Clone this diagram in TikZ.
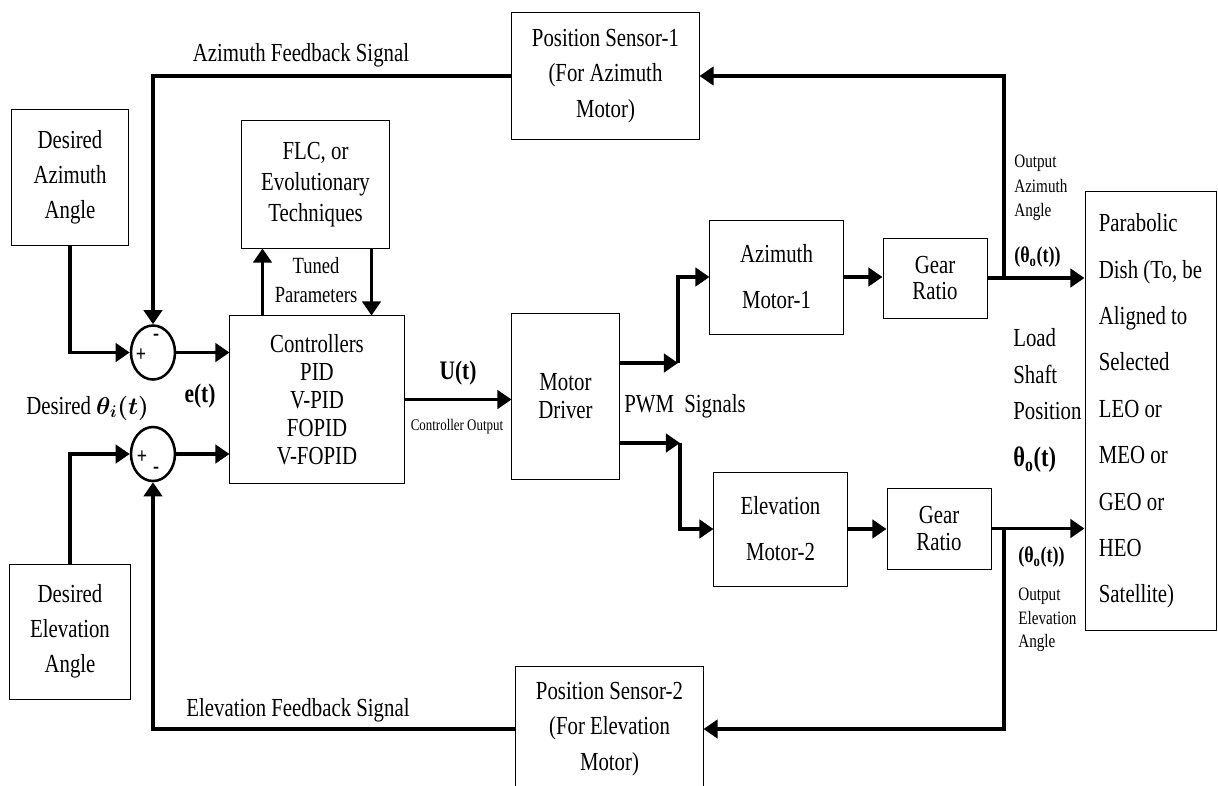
\documentclass[tikz,border=0pt]{standalone}
\usepackage{amsmath}
\usepackage{fontspec}
\setmainfont{Liberation Serif}[FakeStretch=0.8]
\usetikzlibrary{positioning,arrows.meta,shapes.geometric,calc}

\tikzset{
  blk/.style={draw, line width=0.7pt, align=center, inner sep=2pt},
  sumnode/.style={draw, ellipse, line width=1.8pt, minimum width=1.1cm, minimum height=1.35cm, inner sep=0},
  sig/.style={line width=2.6pt, -{Triangle[length=10pt,width=13pt]}},
  wire/.style={line width=2.6pt},
  lbl/.style={inner sep=0, align=center, font=\fontsize{18.5}{25}\selectfont},
  smalllbl/.style={inner sep=0, align=left, font=\fontsize{13.5}{17}\selectfont},
  sgn/.style={inner sep=0, font=\bfseries\fontsize{16}{16}\selectfont},
  thetalbl/.style={inner sep=0, font=\bfseries\fontsize{16}{16}\selectfont},
}

\begin{document}
\begin{tikzpicture}[x=0.025cm, y=-0.025cm]
    \useasboundingbox (0,0) rectangle (1218,785);
    \clip (0,0) rectangle (1218,785);

    % Desired angles
    \node[blk, minimum width=2.9cm, minimum height=3.375cm, font=\fontsize{18.5}{24.8}\selectfont] (daz) at (70,177.5) {Desired\\Azimuth\\Angle};
    \node[blk, minimum width=3.0cm, minimum height=3.375cm, font=\fontsize{18.5}{24.8}\selectfont] (del) at (70,631.5) {Desired\\Elevation\\Angle};

    % Summing points
    \node[sumnode] (s1) at (153,352.5) {};
    \node[sumnode] (s2) at (153,454) {};
    \node[sgn] at ($(s1)+(-12,3)$) {+};
    \node[sgn] at ($(s1)+(3,-15)$) {-};
    \node[sgn] at ($(s2)+(-11,3)$) {+};
    \node[sgn] at ($(s2)+(3,16)$) {-};

    % Controller and tuning
    \node[blk, minimum width=4.35cm, minimum height=4.175cm, font=\fontsize{18.5}{19.8}\selectfont] (ctrl) at (317,399.5) {Controllers\\PID\\V-PID\\FOPID\\V-FOPID};
    \node[blk, minimum width=3.675cm, minimum height=3.175cm, font=\fontsize{18.5}{22}\selectfont] (flc) at (315.5,184.5) {FLC, or\\Evolutionary\\Techniques};
    \node[lbl, font=\fontsize{16.5}{21}\selectfont] (tune) at (316,280) {Tuned\\Parameters};

    % Driver, motors and gears
    \node[blk, minimum width=2.675cm, minimum height=4.125cm, font=\fontsize{18.5}{19.8}\selectfont] (drv) at (565.5,396.5) {Motor\\Driver};
    \node[blk, minimum width=3.325cm, minimum height=2.85cm, font=\fontsize{18.5}{32.6}\selectfont] (azm) at (776.5,277) {Azimuth\\Motor-1};
    \node[blk, minimum width=3.325cm, minimum height=2.85cm, font=\fontsize{18.5}{32.6}\selectfont] (elm) at (780.5,529) {Elevation\\Motor-2};
    \node[blk, minimum width=2.6cm, minimum height=2.0cm, font=\fontsize{18.5}{19}\selectfont] (gr1) at (935,278) {Gear\\Ratio};
    \node[blk, minimum width=2.6cm, minimum height=2.025cm, font=\fontsize{18.5}{19}\selectfont] (gr2) at (939,528.5) {Gear\\Ratio};

    % Sensors and dish
    \node[blk, minimum width=4.675cm, minimum height=3.15cm, font=\fontsize{18.5}{25}\selectfont] (ps1) at (605.5,76) {Position Sensor-1\\(For Azimuth\\Motor)};
    \node[blk, minimum width=4.675cm, minimum height=3.15cm, font=\fontsize{18.5}{25}\selectfont] (ps2) at (609.5,729) {Position Sensor-2\\(For Elevation\\Motor)};
    \node[blk, align=left, minimum width=3.275cm, minimum height=10.95cm, font=\fontsize{18.5}{33}\selectfont] (dish) at (1150.5,411) {Parabolic\\Dish (To, be\\Aligned to\\Selected\\LEO or\\MEO or\\GEO or\\HEO\\Satellite)};

    % Labels
    \node[lbl] (azfb) at (301,55) {Azimuth Feedback Signal};
    \node[lbl] (elfb) at (298,710) {Elevation Feedback Signal};
    \node[lbl, anchor=west] (dth) at (26,408) {Desired $\boldsymbol{\theta_i(t)}$};
    \node[lbl, font=\bfseries\fontsize{19}{19}\selectfont] (et) at (200,396) {e(t)};
    \node[lbl, font=\bfseries\fontsize{19}{19}\selectfont] (ut) at (458,373) {U(t)};
    \node[lbl, font=\fontsize{11.5}{12}\selectfont] (cout) at (457,427) {Controller Output};
    \node[lbl, anchor=west] (pwm) at (624,406) {PWM~ Signals};
    \node[smalllbl, anchor=west, font=\fontsize{13.5}{17.4}\selectfont] (oaz) at (1014,188) {Output\\Azimuth\\Angle};
    \node[thetalbl, anchor=west] (th1) at (1014,257) {(θ\textsubscript{o}(t))};
    \node[lbl, anchor=west, align=left, font=\fontsize{18.5}{26}\selectfont] (lsp) at (1013,374.5) {Load\\Shaft\\Position};
    \node[lbl, anchor=west, font=\bfseries\fontsize{20}{20}\selectfont] (th0) at (1013,460) {θ\textsubscript{o}(t)};
    \node[thetalbl, anchor=west] (th2) at (1018,557) {(θ\textsubscript{o}(t))};
    \node[smalllbl, anchor=west, font=\fontsize{13.5}{16.7}\selectfont] (oel) at (1018,620) {Output\\Elevation\\Angle};

    % Junction points
    \coordinate (tuneup) at ([xshift=0.825cm]ctrl.north west);
    \coordinate (tunedn) at ([xshift=-0.45cm]flc.south east);
    \coordinate (pwm1) at (678,363);
    \coordinate (pwm2) at (680,443);
    \coordinate (j1) at (1004,278);
    \coordinate (j2) at (1004,528.5);

    % Forward path
    \draw[sig] (daz.south) |- (s1.west);
    \draw[sig] (del.north) |- (s2.west);
    \draw[sig] (s1.east) -- (s1.east -| ctrl.west);
    \draw[sig] (s2.east) -- (s2.east -| ctrl.west);
    \draw[sig] (tuneup) -- (tuneup |- flc.south);
    \draw[sig] (tunedn) -- (tunedn |- ctrl.north);
    \draw[sig] (ctrl.east) -- (ctrl.east -| drv.west);
    \draw[sig] (pwm1 -| drv.east) -- (pwm1);
    \draw[sig] (pwm1) |- (azm.west);
    \draw[sig] (pwm2 -| drv.east) -- (pwm2);
    \draw[sig] (pwm2) |- (elm.west);
    \draw[sig] (azm.east) -- (azm.east -| gr1.west);
    \draw[sig] (elm.east) -- (elm.east -| gr2.west);
    \draw[sig] (gr1.east) -- (gr1.east -| dish.west);
    \draw[sig] (gr2.east) -- (gr2.east -| dish.west);

    % Feedback paths
    \draw[sig] (j1) |- (ps1.east);
    \draw[sig] (j2) |- (ps2.east);
    \draw[sig] (ps1.west) -| (s1.north);
    \draw[sig] (ps2.west) -| (s2.south);

\end{tikzpicture}
\end{document}
